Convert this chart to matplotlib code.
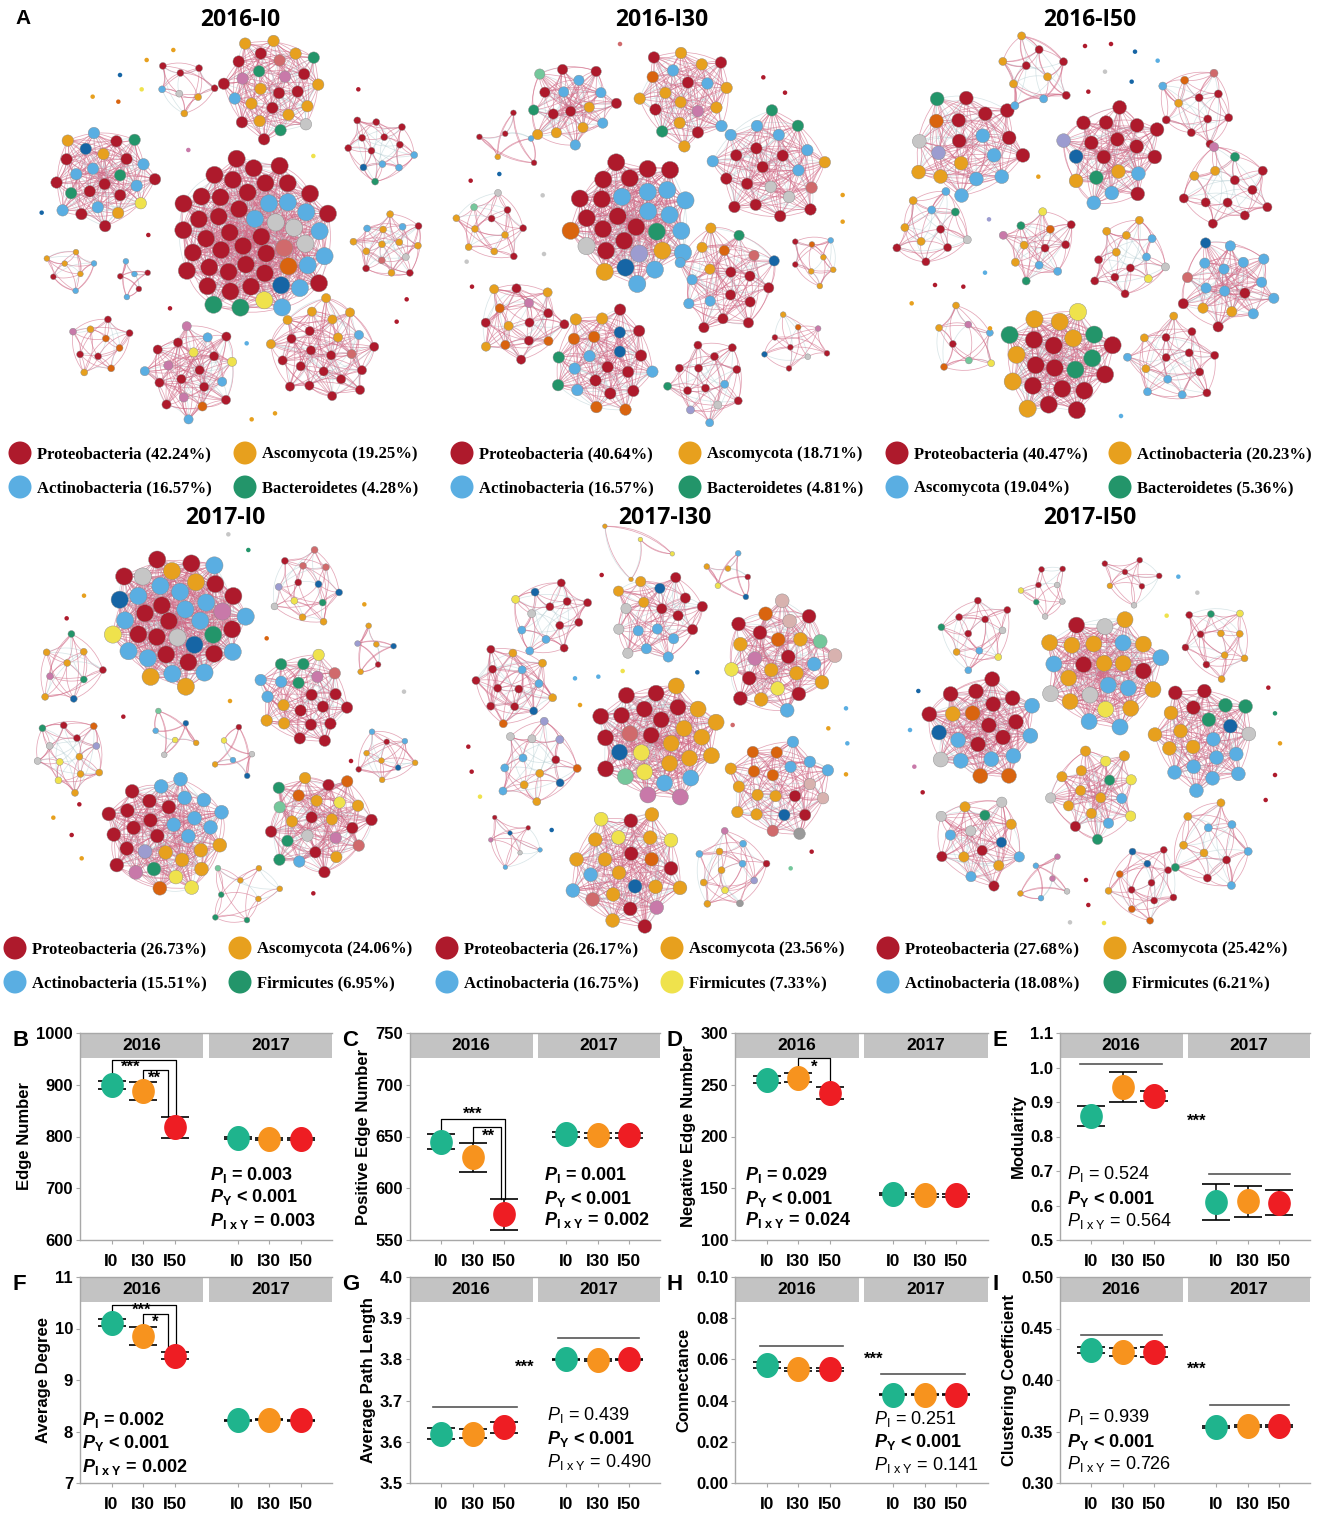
import re
import numpy as np
import matplotlib
matplotlib.use("Agg")
import matplotlib.pyplot as plt
from matplotlib.collections import LineCollection
from matplotlib.path import Path
from matplotlib.patches import Rectangle
import matplotlib.transforms as mtransforms

plt.rcParams['font.family'] = ['Liberation Sans', 'DejaVu Sans']
plt.rcParams['mathtext.fontset'] = 'custom'
plt.rcParams['mathtext.rm'] = 'Liberation Sans'
plt.rcParams['mathtext.it'] = 'Liberation Sans:italic'
plt.rcParams['mathtext.bf'] = 'Liberation Sans:bold'
try:
    plt.rcParams['mathtext.bfit'] = 'Liberation Sans:bold:italic'
    BFIT = r'\mathbfit'
except Exception:
    BFIT = r'\mathit'

# ---------------------------------------------------------------- data
levels = ['I0', 'I30', 'I50']
years = ['2016', '2017']

edge_mean = [900, 888, 818, 797, 796, 796]
edge_err = [8, 17, 20, 2, 2, 2]
pos_mean = [645, 630, 575, 652, 651, 651]
pos_err = [7, 14, 15, 2, 2, 2]
neg_mean = [255, 257, 242, 144, 143, 143]
neg_err = [3, 4, 6, 1, 1, 1]
mod_mean = [0.858, 0.943, 0.918, 0.610, 0.612, 0.608]
mod_err = [0.029, 0.043, 0.014, 0.053, 0.045, 0.036]
deg_mean = [10.11, 9.85, 9.47, 8.22, 8.23, 8.22]
deg_err = [0.07, 0.17, 0.07, 0.01, 0.01, 0.01]
apl_mean = [3.620, 3.620, 3.635, 3.800, 3.799, 3.800]
apl_err = [0.013, 0.010, 0.013, 0.002, 0.002, 0.002]
con_mean = [0.0573, 0.0551, 0.0552, 0.0428, 0.0428, 0.0428]
con_err = [0.0014, 0.0008, 0.0008, 0.0003, 0.0003, 0.0003]
clu_mean = [0.429, 0.427, 0.427, 0.354, 0.355, 0.355]
clu_err = [0.003, 0.004, 0.005, 0.001, 0.001, 0.001]

p_B = ['= 0.003', '< 0.001', '= 0.003']
p_C = ['= 0.001', '< 0.001', '= 0.002']
p_D = ['= 0.029', '< 0.001', '= 0.024']
p_E = ['= 0.524', '< 0.001', '= 0.564']
p_F = ['= 0.002', '< 0.001', '= 0.002']
p_G = ['= 0.439', '< 0.001', '= 0.490']
p_H = ['= 0.251', '< 0.001', '= 0.141']
p_I = ['= 0.939', '< 0.001', '= 0.726']

net_titles = ['2016-I0', '2016-I30', '2016-I50', '2017-I0', '2017-I30', '2017-I50']
legend_labels = [
    ['Proteobacteria (42.24%)', 'Ascomycota (19.25%)', 'Actinobacteria (16.57%)', 'Bacteroidetes (4.28%)'],
    ['Proteobacteria (40.64%)', 'Ascomycota (18.71%)', 'Actinobacteria (16.57%)', 'Bacteroidetes (4.81%)'],
    ['Proteobacteria (40.47%)', 'Actinobacteria (20.23%)', 'Ascomycota (19.04%)', 'Bacteroidetes (5.36%)'],
    ['Proteobacteria (26.73%)', 'Ascomycota (24.06%)', 'Actinobacteria (15.51%)', 'Firmicutes (6.95%)'],
    ['Proteobacteria (26.17%)', 'Ascomycota (23.56%)', 'Actinobacteria (16.75%)', 'Firmicutes (7.33%)'],
    ['Proteobacteria (27.68%)', 'Ascomycota (25.42%)', 'Actinobacteria (18.08%)', 'Firmicutes (6.21%)'],
]
legend_codes = ['RACG', 'RACG', 'RACG', 'RACG', 'RACY', 'RACG']

# module composition (phylum code + node count) for each network
net_modules = [
    ['R33C9S3G2Y1D1O1W1', 'R9A9G3P2S1C1W1', 'R10C7A3G3Y1D1', 'S1C1R4A2', 'R8C3G1D1',
     'A8R3C2S1W1', 'A4C2R1', 'C3R3', 'O3A2R4P1', 'R10C4P3Y2O1', 'R14A7C1W1'],
    ['R13C10A2G1D1O1L1S1', 'R6C5A4G1M1', 'A9R5C3G1P1O1', 'R10C6G2S2W1A1', 'R4A1C1',
     'R4A5M1S1', 'R8C4A3G1O1D1W1', 'A4R2O1C1', 'R7A4O3P1', 'R8C4O4G2D2A2', 'R9C2S1L1G1',
     'R4O1D1A1P1S1'],
    ['R11A6G4Y1', 'R11C3A2G1L1D1', 'R7C5A3S1L1G1O1', 'R4A4C2', 'R7C1A1O1W1', 'R9A2P1G1',
     'R4A3C2G1S1', 'R3C2A2G2P1O1Y1', 'R5A4C2S1Y1', 'C10R3A2W1D1', 'R1A2P1C1Y1M1O1', 'R7C4A3'],
    ['R14C14A4S2D2G1Y1P1', 'R2W3D2G1A2Y1S1L1', 'A4G2R1D1P1', 'A3D1L1R1', 'R9A3C3G3Y1P1W1',
     'A4Y2S2G1R2O1L1', 'Y1A1M1S1D1C1', 'C1D1R1A1S1Y1', 'A4R2C2D1', 'R11C9A5Y2G1O1L1P1',
     'R7A6G3O2Y1W1P1C1S1M1', 'A4G3M1'],
    ['R10A9C2Y2P2M1D1W1', 'R7C3S1Y1D1', 'R6C5S3A3D1', 'R7A6T3C2Y2P1O2M1', 'R7A3C2D1O1',
     'A3C3S2L2R1O1D1', 'A6O4C4T2R2K1D1W1', 'A10R5C2Y3O1P1D1W1', 'A4C3P1L1R1Y1K1',
     'A2D1C1Y1R1', 'D1R2S1C2P1', 'Y2A2'],
    ['A11C7S3R3Y1', 'R10C6O3A1D1S1', 'C8A5R3G3D1S1', 'A8Y3G2C2R1S1', 'R3A4S3C3G1D1',
     'A4C4R2G1', 'R5S1Y1C2A1G1', 'R3S3G1Y1', 'R5S1A1', 'A5R4G1Y1', 'P2A1S1C2', 'R6O3A1D2'],
]
net_singletons = ['AADYAORDRPYRRRCAA', 'WRRRDSRAASS', 'RRDCSDRALCRRAAC',
                  'SGAROAASRRARARR', 'RCCAYDWRRYDCACARM', 'CSYDCPRRGARRRRSY']

# ---------------------------------------------------------------- styles / layout
PHY = {'R': '#AE1A2C', 'A': '#E7A01E', 'C': '#5AAEE2', 'G': '#23956A', 'Y': '#EFE24C',
       'S': '#C6C6C6', 'P': '#C879A9', 'D': '#1665A5', 'O': '#D9640F', 'W': '#D06A6C',
       'L': '#9C9CD0', 'M': '#74C79B', 'T': '#D8B2AF', 'K': '#9A9A9A'}
PT_COL = ['#1FB48D', '#F7931E', '#EE1D23']

# crop origin of each network (figure px) and module layout (x, y, r in 1/3 px, node px, density)
net_origin = [(0, 0), (440, 30), (885, 30), (0, 525), (440, 525), (885, 525)]
net_layout = [
    [(760, 710, 250, 15, 12), (820, 265, 165, 10, 7), (310, 530, 165, 10, 7), (550, 260, 100, 6, 3),
     (1135, 445, 115, 6, 4), (1165, 740, 115, 6, 4), (205, 810, 85, 5, 3), (400, 840, 65, 5, 2),
     (300, 1030, 105, 6, 3), (575, 1110, 155, 8, 6), (975, 1050, 170, 8, 6)],
    [(575, 570, 200, 15, 11), (395, 220, 145, 9, 6), (740, 200, 160, 10, 7), (995, 410, 185, 10, 7),
     (220, 330, 110, 5, 2), (160, 590, 120, 6, 3), (860, 750, 170, 9, 6), (1130, 690, 90, 5, 3),
     (245, 870, 140, 8, 5), (490, 990, 170, 10, 7), (800, 1050, 135, 7, 4), (1070, 935, 110, 5, 2)],
    [(520, 990, 180, 15, 11), (680, 370, 165, 12, 8), (250, 340, 180, 12, 7), (440, 130, 130, 7, 4),
     (940, 230, 130, 7, 4), (1030, 470, 145, 8, 5), (140, 600, 130, 7, 4), (460, 640, 125, 7, 4),
     (730, 690, 130, 7, 4), (1030, 760, 155, 9, 6), (230, 930, 120, 6, 3), (870, 990, 150, 7, 4)],
    [(530, 285, 215, 15, 13), (915, 185, 125, 6, 3), (210, 440, 120, 6, 3), (1120, 380, 85, 5, 2),
     (915, 520, 150, 10, 7), (215, 690, 125, 6, 4), (510, 625, 90, 5, 2), (700, 680, 90, 5, 2),
     (1160, 690, 100, 5, 3), (495, 930, 190, 12, 10), (955, 890, 170, 10, 8), (730, 1095, 125, 5, 2)],
    [(650, 650, 195, 14, 11), (330, 270, 130, 7, 5), (650, 270, 150, 9, 6), (1020, 400, 180, 12, 8),
     (215, 480, 135, 7, 5), (290, 720, 140, 7, 4), (1015, 790, 165, 10, 7), (560, 1030, 190, 12, 9),
     (870, 1040, 130, 6, 3), (880, 150, 90, 5, 2), (210, 950, 100, 4, 2), (570, 80, 140, 4, 1)],
    [(650, 440, 190, 14, 11), (290, 615, 175, 13, 10), (960, 640, 170, 12, 9), (630, 800, 150, 9, 6),
     (290, 950, 150, 9, 6), (975, 960, 145, 7, 4), (275, 320, 125, 6, 3), (480, 190, 90, 5, 2),
     (730, 165, 100, 5, 2), (1000, 350, 125, 6, 3), (480, 1075, 95, 5, 2), (775, 1070, 125, 6, 3)],
]
net_single_pos = [
    [(520, 150), (440, 180), (360, 225), (425, 268), (278, 290), (355, 305), (1075, 268), (125, 638),
     (445, 705), (565, 450), (940, 468), (1220, 898), (1190, 965), (510, 925), (740, 1030), (755, 1258),
     (825, 1240)],
    [(540, 42), (970, 142), (1035, 188), (92, 452), (178, 432), (80, 695), (96, 770), (1208, 495),
     (1208, 575), (308, 496), (312, 672)],
    [(600, 48), (678, 42), (750, 65), (818, 92), (660, 125), (740, 155), (610, 185), (460, 440),
     (312, 568), (300, 728), (150, 765), (235, 770), (80, 820), (315, 895), (708, 1158)],
    [(685, 28), (745, 75), (252, 212), (200, 280), (800, 340), (1093, 238), (690, 528), (1212, 500),
     (370, 575), (238, 838), (160, 878), (215, 930), (245, 1000), (1053, 708), (940, 1105)],
    [(485, 150), (405, 460), (475, 455), (420, 540), (548, 438), (772, 442), (878, 600), (85, 665),
     (95, 740), (120, 815), (335, 915), (1218, 550), (1165, 610), (1222, 655), (1218, 748),
     (1115, 980), (1052, 1030)],
    [(880, 155), (937, 203), (845, 272), (100, 498), (75, 615), (88, 725), (113, 802), (1150, 488),
     (1170, 565), (1185, 655), (1170, 750), (1142, 825), (603, 1065), (610, 1140), (555, 1192),
     (657, 1194)],
]
title_pos = [(240, 20), (662, 20), (1090, 20), (225, 518), (665, 518), (1090, 518)]
legend_pos = [(20, 245, 453), (462, 690, 453), (897, 1120, 453),
              (15, 240, 948), (447, 672, 948), (888, 1115, 948)]

W, H = 1325, 1522
fig = plt.figure(figsize=(W / 100, H / 100), dpi=100)
ax0 = fig.add_axes([0, 0, 1, 1], zorder=0)
ax0.set_xlim(0, W)
ax0.set_ylim(H, 0)
ax0.axis('off')


def px2s(d):
    return (d * 0.72) ** 2


def parse(comp):
    out = []
    for code, n in re.findall(r'([A-Z])(\d+)', comp):
        out += [code] * int(n)
    return out


OFFS = [1, 3, 5, 2, 8, 13, 4, 7, 10, 6, 11, 9, 12, 15]
GA = np.pi * (3 - np.sqrt(5))
NODE_SCALE = 1.15


def draw_module(comp, cx, cy, rad, dpx, dens, phase):
    codes = parse(comp)
    n = len(codes)
    s = max(1, int(round(n * 0.382)))
    while np.gcd(s, n) != 1:
        s += 1
    cols = [PHY[codes[(i * s) % n]] for i in range(n)]
    i = np.arange(n)
    rr = rad * 0.97 * np.sqrt((i + 0.5) / n)
    th = i * GA + phase
    xs = cx + rr * np.cos(th)
    ys = cy + rr * np.sin(th)
    segs, ecol = [], []
    t = np.linspace(0, 1, 9)[:, None]
    k = 0
    for a in range(n):
        for d in OFFS[:dens + 1]:
            if d >= n:
                continue
            b = (a + d) % n
            p0 = np.array([xs[a], ys[a]])
            p1 = np.array([xs[b], ys[b]])
            mid = (p0 + p1) / 2
            v = p1 - p0
            perp = np.array([-v[1], v[0]]) * (0.22 if k % 2 else -0.18)
            c = mid + perp
            pts = (1 - t) ** 2 * p0 + 2 * (1 - t) * t * c + t ** 2 * p1
            segs.append(pts)
            ecol.append((0.82, 0.42, 0.53, 0.6) if k % 5 else (0.70, 0.80, 0.82, 0.5))
            k += 1
    ax0.add_collection(LineCollection(segs, colors=ecol, linewidths=0.55, zorder=1))
    ax0.scatter(xs, ys, s=px2s(dpx * NODE_SCALE), c=cols, edgecolors='#8a8a8a',
                linewidths=0.3, zorder=2)


for ni in range(6):
    ox, oy = net_origin[ni]
    for mi, (comp, lay) in enumerate(zip(net_modules[ni], net_layout[ni])):
        zx, zy, zr, dpx, dens = lay
        draw_module(comp, ox + zx / 3, oy + zy / 3, zr / 3, dpx, dens, 0.7 * mi + ni)
    sp = np.array(net_single_pos[ni], dtype=float)
    ax0.scatter(ox + sp[:, 0] / 3, oy + sp[:, 1] / 3, s=px2s(4.5),
                c=[PHY[c] for c in net_singletons[ni]], edgecolors='none', zorder=2)
    tx, ty = title_pos[ni]
    ax0.text(tx, ty, net_titles[ni], ha='center', va='center', fontsize=16.5, fontweight='bold',
             family=['Open Sans', 'DejaVu Sans'])
    x1, x2, ly = legend_pos[ni]
    lab = legend_labels[ni]
    codes = legend_codes[ni]
    for j, (mx, my) in enumerate([(x1, ly), (x2, ly), (x1, ly + 34), (x2, ly + 34)]):
        ax0.scatter([mx], [my], s=px2s(23), c=PHY[codes[j]], edgecolors='none', zorder=3)
        ax0.text(mx + 17, my + 1, lab[j], ha='left', va='center', fontsize=12, fontweight='bold',
                 family=['Liberation Serif', 'DejaVu Serif'])

ax0.text(15, 18, 'A', fontsize=15, fontweight='bold', ha='left', va='center')

# ---------------------------------------------------------------- panels
th_ = np.linspace(0, 2 * np.pi, 60)
ELL = Path(np.column_stack([0.9 * np.cos(th_), np.sin(th_)]), closed=True)
XS = [1, 2, 3, 5, 6, 7]


def panel(box, letter, mean, err, ylim, yticks, fmt, ylabel, pvals, pbold, px, py,
          brackets=(), hlines=(), stars=()):
    l, t, r, b = box
    ax = fig.add_axes([l / W, 1 - b / H, (r - l) / W, (b - t) / H], zorder=2)
    ax.set_xlim(0, 8)
    ax.set_ylim(*ylim)
    ax.set_yticks(yticks)
    ax.set_yticklabels([fmt % v for v in yticks])
    ax.set_xticks(XS)
    ax.set_xticklabels(levels * 2)
    for sp in ['left', 'bottom', 'top']:
        ax.spines[sp].set_color('#A8A8A8')
        ax.spines[sp].set_linewidth(1.0)
    ax.spines['right'].set_visible(False)
    ax.tick_params(axis='both', colors='#A8A8A8', labelcolor='black', length=3, width=0.8,
                   labelsize=12.5)
    ax.tick_params(axis='y', labelsize=12, pad=2)
    ax.tick_params(axis='x', pad=7)
    for lb in ax.get_xticklabels() + ax.get_yticklabels():
        lb.set_fontweight('bold')
    ax.set_ylabel(ylabel, fontsize=12, fontweight='bold', labelpad=3)
    tr = mtransforms.blended_transform_factory(ax.transData, ax.transAxes)
    for x0, x1, yr in [(0, 3.92, '2016'), (4.08, 8, '2017')]:
        ax.add_patch(Rectangle((x0, 0.88), x1 - x0, 0.12, transform=tr, facecolor='#C3C3C3',
                               edgecolor='none', zorder=1, clip_on=False))
        ax.text((x0 + x1) / 2, 0.94, yr, transform=tr, ha='center', va='center', fontsize=12.5,
                fontweight='bold', zorder=2)
    ax.errorbar(XS, mean, yerr=err, fmt='none', ecolor='black', elinewidth=1.1, capsize=10,
                capthick=1.2, zorder=3)
    for x, m, c in zip(XS, mean, PT_COL * 2):
        ax.plot([x], [m], marker=ELL, ms=17, color=c, mec=c, ls='none', zorder=4)
    for (x1, x2, yl, ytop, yr) in brackets:
        ax.plot([x1, x1, x2, x2], [yl, ytop, ytop, yr], color='black', lw=0.9, zorder=3)
    for (x1, x2, yy) in hlines:
        ax.plot([x1, x2], [yy, yy], color='#555555', lw=1.2, zorder=3)
    for (sx, sy, st) in stars:
        ax.text(sx, sy, st, ha='center', va='center', fontsize=12, fontweight='bold', zorder=5)
    subs = [r'I', r'Y', r'I\ x\ Y']
    for j in range(3):
        if pbold[j]:
            s = r'$' + BFIT + r'{P}_{\mathbf{' + subs[j] + r'}}$ ' + pvals[j]
            ax.text(px, py[j], s, fontsize=13, fontweight='bold', ha='left', va='center', zorder=5)
        else:
            s = r'$\mathit{P}_{\mathrm{' + subs[j] + r'}}$ ' + pvals[j]
            ax.text(px, py[j], s, fontsize=13, ha='left', va='center', zorder=5)
    fig.text((l - 68) / W, 1 - (t + 8) / H, letter, fontsize=16, fontweight='bold',
             ha='left', va='center')
    return ax


R1 = (1033, 1240)
R2 = (1277, 1483)
C1, C2, C3, C4 = (80, 332), (410, 660), (735, 988), (1060, 1310)

panel((C1[0], R1[0], C1[1], R1[1]), 'B', edge_mean, edge_err, (600, 1000),
      [600, 700, 800, 900, 1000], '%d', 'Edge Number', p_B, [True] * 3, 4.13, [725, 683, 637],
      brackets=[(1, 3.04, 915, 948, 840), (2, 2.8, 905, 929, 840)],
      stars=[(1.6, 934, '***'), (2.35, 913, '**')])
panel((C2[0], R1[0], C2[1], R1[1]), 'C', pos_mean, pos_err, (550, 750),
      [550, 600, 650, 700, 750], '%d', 'Positive Edge Number', p_C, [True] * 3, 4.3,
      [613, 590, 569],
      brackets=[(1, 3.05, 655, 667, 590), (2, 2.9, 645, 659, 590)],
      stars=[(2.0, 671, '***'), (2.5, 650, '**')])
panel((C3[0], R1[0], C3[1], R1[1]), 'D', neg_mean, neg_err, (100, 300),
      [100, 150, 200, 250, 300], '%d', 'Negative Edge Number', p_D, [True] * 3, 0.33,
      [163, 140, 119],
      brackets=[(2, 3, 262, 276, 250)], stars=[(2.5, 267, '*')])
panel((C4[0], R1[0], C4[1], R1[1]), 'E', mod_mean, mod_err, (0.5, 1.1),
      [0.5, 0.6, 0.7, 0.8, 0.9, 1.0, 1.1], '%.1f', 'Modularity', p_E, [False, True, False], 0.23,
      [0.692, 0.62, 0.554],
      hlines=[(0.64, 3.27, 1.01), (4.77, 7.35, 0.692)], stars=[(4.38, 0.845, '***')])
panel((C1[0], R2[0], C1[1], R2[1]), 'F', deg_mean, deg_err, (7, 11),
      [7, 8, 9, 10, 11], '%d', 'Average Degree', p_F, [True] * 3, 0.07, [8.23, 7.77, 7.32],
      brackets=[(1, 3.05, 10.22, 10.46, 9.6), (2, 2.8, 10.03, 10.29, 9.6)],
      stars=[(1.95, 10.35, '***'), (2.4, 10.12, '*')])
panel((C2[0], R2[0], C2[1], R2[1]), 'G', apl_mean, apl_err, (3.5, 4.0),
      [3.5, 3.6, 3.7, 3.8, 3.9, 4.0], '%.1f', 'Average Path Length', p_G, [False, True, False],
      4.39, [3.664, 3.608, 3.552],
      hlines=[(0.75, 3.42, 3.684), (4.73, 7.32, 3.852)], stars=[(3.66, 3.782, '***')])
panel((C3[0], R2[0], C3[1], R2[1]), 'H', con_mean, con_err, (0.0, 0.10),
      [0.0, 0.02, 0.04, 0.06, 0.08, 0.10], '%.2f', 'Connectance', p_H, [False, True, False],
      4.4, [0.0312, 0.020, 0.0088],
      hlines=[(0.8, 3.41, 0.0667), (4.63, 7.26, 0.0528)], stars=[(4.4, 0.060, '***')])
panel((C4[0], R2[0], C4[1], R2[1]), 'I', clu_mean, clu_err, (0.30, 0.50),
      [0.30, 0.35, 0.40, 0.45, 0.50], '%.2f', 'Clustering Coefficient', p_I,
      [False, True, False], 0.21, [0.3639, 0.340, 0.3187],
      hlines=[(0.66, 3.27, 0.4435), (4.8, 7.33, 0.3758)], stars=[(4.36, 0.410, '***')])

fig.savefig('out.png', dpi=100)
